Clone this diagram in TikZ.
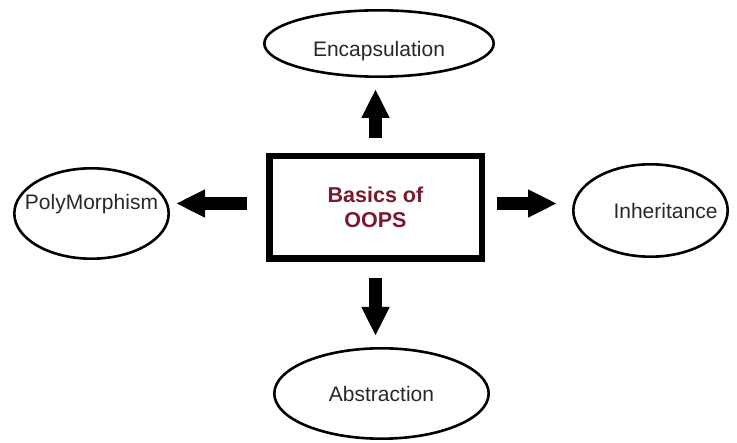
\documentclass[tikz,border=0pt]{standalone}
\usepackage{fontspec}
\setmainfont{Liberation Sans}
\usepackage{xcolor}
\usepackage{tikz}
\usetikzlibrary{arrows.meta,positioning,shapes.geometric,calc}
\definecolor{oopsred}{RGB}{122,26,44}
\definecolor{bubbletext}{RGB}{40,40,40}

\begin{document}
\begin{tikzpicture}[x=1pt,y=-1pt,every node/.style={font=\fontsize{21}{25}\selectfont,align=center},
  every label/.style={text=bubbletext},
  bubble/.style={draw,ellipse,line width=2.6pt,inner sep=0pt,text=bubbletext},
  fatarrow/.style={line width=13pt,-{Triangle[length=29pt,width=26pt]}}]
\useasboundingbox[fill=white] (0,0) rectangle (737,443);
\node[draw,line width=6.5pt,minimum width=212.5pt,minimum height=102.5pt,text=oopsred,font=\fontsize{21.5}{25}\selectfont\bfseries] (box) at (375.5,207.5) {Basics of\\OOPS};
\node[bubble,minimum width=229.4pt,minimum height=66.4pt,label={[yshift=-8pt]center:Encapsulation}] (encap) at (379,43.5) {};
\node[bubble,minimum width=154.4pt,minimum height=90.4pt,label={[yshift=9pt]center:PolyMorphism}] (polym) at (91.5,213.5) {};
\node[bubble,minimum width=154.4pt,minimum height=92.4pt,label={[xshift=15pt]center:Inheritance}] (inh) at (650.5,210.5) {};
\node[bubble,minimum width=214.4pt,minimum height=90.4pt] (abstr) at (381.5,393.5) {Abstraction};
\coordinate (lmid) at ([yshift=4pt]box.west);
\coordinate (rmid) at ([yshift=4pt]box.east);
\draw[fatarrow,shorten <=15pt,shorten >=11pt] (box.north) -- (box.north |- encap.south);
\draw[fatarrow,shorten <=16pt,shorten >=11pt] (box.south) -- (box.south |- abstr.north);
\draw[fatarrow,shorten <=19pt,shorten >=6pt] (lmid) -- (lmid -| polym.east);
\draw[fatarrow,shorten <=12pt,shorten >=15pt] (rmid) -- (rmid -| inh.west);
\end{tikzpicture}
\end{document}
